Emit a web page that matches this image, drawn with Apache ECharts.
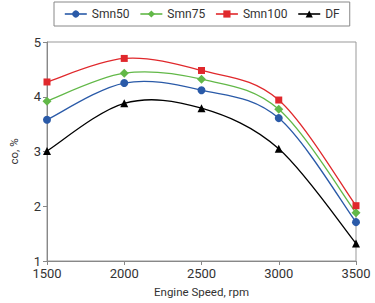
<!DOCTYPE html>
<html>
<head>
<meta charset="utf-8">
<script src="https://cdn.jsdelivr.net/npm/echarts@6/dist/echarts.min.js"></script>
<style>
  html, body { margin: 0; padding: 0; background: #fff; }
  #chart { width: 375px; height: 303px; }
</style>
</head>
<body>
<div id="chart"></div>
<script>
const speeds = [1500, 2000, 2500, 3000, 3500]
const smn50 = [3.58, 4.25, 4.12, 3.61, 1.71]
const smn75 = [3.92, 4.43, 4.32, 3.77, 1.88]
const smn100 = [4.27, 4.70, 4.48, 3.94, 2.01]
const df = [3.01, 3.88, 3.79, 3.05, 1.32]

const font = 'Roboto'
const tickFont = "'Liberation Sans Narrow', Roboto"

const pairs = vals => speeds.map((s, i) => [s, vals[i]])

// markers + legend entry (line itself is drawn by the curve series)
const mkSeries = (name, vals, color, symbol, size) => ({
  name,
  type: 'line',
  data: pairs(vals),
  symbol,
  symbolSize: size,
  z: 3,
  lineStyle: { color, width: 1.3, opacity: 0 },
  itemStyle: { color },
})

// excel-like smoothed curve, catmull-rom through the pixel points
const mkCurve = (vals, color) => ({
  type: 'custom',
  coordinateSystem: 'cartesian2d',
  data: pairs(vals),
  silent: true,
  z: 2,
  renderItem(params, api) {
    if (params.dataIndex !== 0) return
    const p = vals.map((v, i) => api.coord([speeds[i], v]))
    let d = `M${p[0][0]},${p[0][1]}`
    for (let i = 0; i < p.length - 1; i++) {
      const p0 = p[i - 1] || p[i]
      const p1 = p[i]
      const p2 = p[i + 1]
      const p3 = p[i + 2] || p[i + 1]
      const c1 = [p1[0] + (p2[0] - p0[0]) / 6, p1[1] + (p2[1] - p0[1]) / 6]
      const c2 = [p2[0] - (p3[0] - p1[0]) / 6, p2[1] - (p3[1] - p1[1]) / 6]
      d += ` C${c1[0]},${c1[1]} ${c2[0]},${c2[1]} ${p2[0]},${p2[1]}`
    }
    return {
      type: 'path',
      shape: { pathData: d },
      style: { stroke: color, fill: 'none', lineWidth: 1.3 },
    }
  },
})

const chart = echarts.init(document.getElementById('chart'), null, { renderer: 'svg' })
chart.setOption({
  animation: false,
  textStyle: { fontFamily: font },
  legend: {
    data: ['Smn50', 'Smn75', 'Smn100', 'DF'],
    top: 2,
    left: 54,
    padding: [6, 10],
    itemGap: 10,
    itemWidth: 22,
    itemHeight: 9,
    borderColor: '#888',
    borderWidth: 1,
    lineStyle: { width: 1.6, opacity: 1 },
    textStyle: { fontSize: 12, color: '#333', fontFamily: font },
  },
  grid: {
    left: 46, right: 19, top: 42, bottom: 42,
    show: true, borderColor: '#999', borderWidth: 1,
  },
  xAxis: {
    type: 'value',
    min: 1500, max: 3500, interval: 500,
    name: 'Engine Speed, rpm',
    nameLocation: 'middle',
    nameGap: 25,
    nameTextStyle: { fontSize: 11.5, color: '#333' },
    axisLine: { lineStyle: { color: '#888' } },
    axisTick: { lineStyle: { color: '#888' }, length: 4 },
    axisLabel: { fontSize: 13, color: '#333', margin: 6, fontFamily: tickFont, formatter: v => String(v) },
    splitLine: { show: false },
  },
  yAxis: {
    type: 'value',
    min: 1, max: 5, interval: 1,
    name: 'co, %',
    nameLocation: 'middle',
    nameGap: 27,
    nameTextStyle: { fontSize: 11.5, color: '#333' },
    axisLine: { show: true, lineStyle: { color: '#888' } },
    axisTick: { show: true, lineStyle: { color: '#888' }, length: 4 },
    axisLabel: { fontSize: 13, color: '#333', margin: 6, fontFamily: tickFont },
    splitLine: { show: false },
  },
  series: [
    mkCurve(smn50, '#2a5aa8'),
    mkCurve(smn75, '#62b848'),
    mkCurve(smn100, '#e0282c'),
    mkCurve(df, '#000000'),
    mkSeries('Smn50', smn50, '#2a5aa8', 'circle', 8),
    mkSeries('Smn75', smn75, '#62b848', 'diamond', 9),
    mkSeries('Smn100', smn100, '#e0282c', 'rect', 7),
    mkSeries('DF', df, '#000000', 'triangle', 8),
  ],
})
</script>
</body>
</html>
